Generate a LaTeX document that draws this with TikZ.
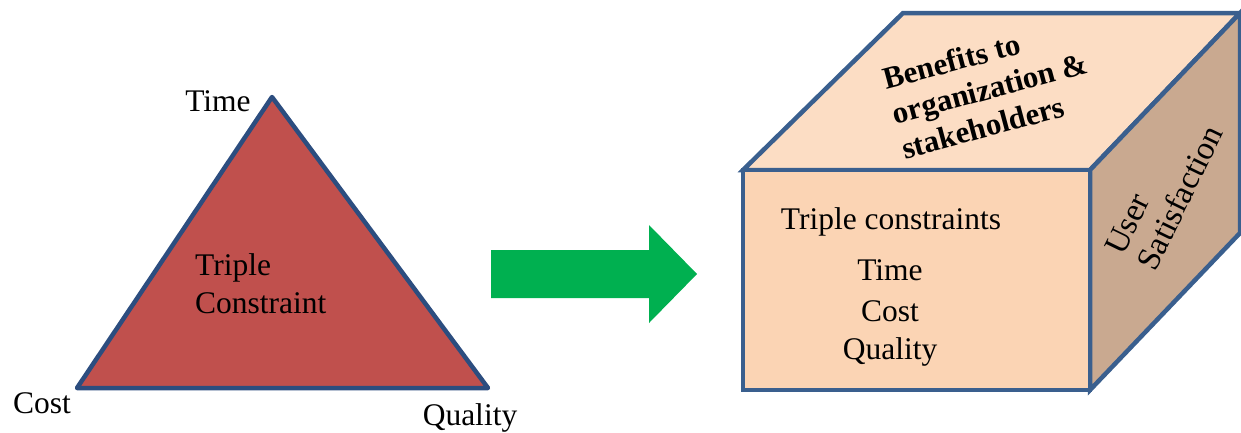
\documentclass[tikz,border=0pt]{standalone}
\usepackage{fontspec}
\setmainfont{Liberation Serif}
\begin{document}
\begin{tikzpicture}[x=1pt,y=-1pt,
  edge/.style={draw=boxblue,line width=4.5pt,line join=miter},
  triedge/.style={draw=triblue,line width=4.5pt,line join=round},
  lbl/.style={font=\fontsize{31.5}{35}\selectfont,inner sep=0pt},
  blbl/.style={font=\fontsize{31}{36}\selectfont\bfseries,inner sep=0pt,align=left}]
\definecolor{boxblue}{HTML}{3A5F8E}
\definecolor{triblue}{HTML}{2C4D7F}
\definecolor{tri}{HTML}{C0504D}
\definecolor{front}{HTML}{FBD4B4}
\definecolor{topf}{HTML}{FCDDC4}
\definecolor{side}{HTML}{C9A990}
\definecolor{arrowgreen}{HTML}{00B050}
\useasboundingbox (0,0) rectangle (1241,432);
% triangle
\coordinate (apex) at (272,97);
\coordinate (bl) at (77,388);
\coordinate (br) at (488,388);
\path[triedge,fill=tri] (apex) -- (bl) -- (br) -- cycle;
\node[lbl] (time) at (218,101) {Time};
\node[lbl] (cost) at (42,403) {Cost};
\node[lbl] (quality) at (470,418) {Quality};
\node[lbl,anchor=west,align=left,font=\fontsize{31.5}{38}\selectfont] (tc) at (195,284) {Triple\\Constraint};
% arrow
\fill[arrowgreen] (491,250) -- (649,250) -- (649,225) -- (697,274) -- (649,323) -- (649,298) -- (491,298) -- cycle;
% box
\coordinate (ftl) at (743,170);
\coordinate (ftr) at (1090,170);
\coordinate (fbl) at (743,390);
\coordinate (fbr) at (1090,390);
\coordinate (btl) at (903,13);
\coordinate (btr) at (1240,13);
\coordinate (bbr) at (1240,233);
\path[edge,fill=topf] (ftl) -- (btl) -- (btr) -- (ftr) -- cycle;
\path[edge,fill=side] (ftr) -- (btr) -- (bbr) -- (fbr) -- cycle;
\path[edge,fill=front] (ftl) -- (ftr) -- (fbr) -- (fbl) -- cycle;
\node[blbl,rotate=15] (ben) at (990,88) {Benefits to\\organization \&\\stakeholders};
\node[lbl,align=left,rotate=64,font=\fontsize{33}{36}\selectfont] (us) at (1164,190) {User\\Satisfaction};
\node[lbl] (tcs) at (891,222) {Triple constraints};
\node[lbl] (t2) at (890,270) {Time};
\node[lbl] (c2) at (890,311) {Cost};
\node[lbl] (q2) at (890,352) {Quality};
\end{tikzpicture}
\end{document}
